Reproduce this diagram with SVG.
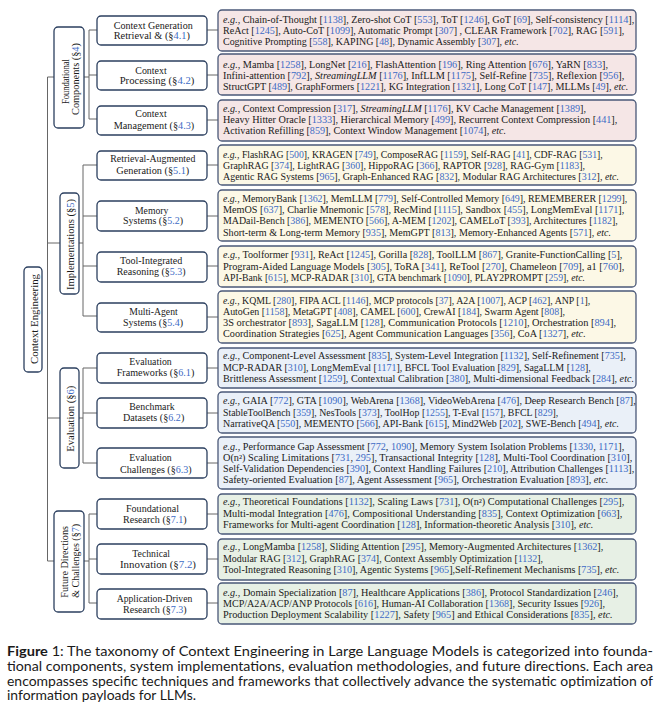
<svg xmlns="http://www.w3.org/2000/svg" width="659" height="721" viewBox="0 0 659 721">
<style>
.bx{fill:#fff;stroke:#2b3f5f;stroke-width:1.3}
.leaf{stroke:#4a5878;stroke-width:1.3}
.f1{fill:#f5e6e6}.f2{fill:#fcf8e6}.f3{fill:#eaf0f8}.f4{fill:#e7f0e5}
.t{font-family:"Liberation Serif",serif;font-size:9.6px;fill:#1a1a1a}
.lb{font-family:"Liberation Serif",serif;font-size:10px;fill:#1a1a1a}
.rt{font-family:"Liberation Serif",serif;font-size:10px;fill:#1a1a1a}
.c{fill:#3d6bc5}
.i{font-style:italic}
.conn{stroke:#666;stroke-width:1;fill:none}
.cap{font-family:Lato,"Liberation Sans",sans-serif;font-size:13px;fill:#1a1a1a}
</style>
<rect width="659" height="721" fill="#fff"/>

<g id="connectors" class="conn">
<path d="M47.5 77V561M47.5 77H54M47.5 243H60M47.5 418H60M47.5 561H54"/>
<path d="M84 77H89M89 30V119M89 30H97M89 75H97M89 119H97"/>
<path d="M79 243H83M83 165V316M83 165H97M83 216H97M83 266H97M83 316H97"/>
<path d="M79 418H83M83 368V463M83 368H97M83 413H97M83 463H97"/>
<path d="M84 561H89M89 514V603M89 514H97M89 559H97M89 603H97"/>
<path d="M207 30H218M207 75H218M207 120H218M207 165H218M207 216H218M207 266H218M207 317H218M207 368H218M207 413H218M207 463H218M207 514H218M207 559H218M207 603H218"/>
</g>

<g id="root">
<rect class="bx" x="24" y="267" width="18" height="105" rx="4"/>
<text class="rt" transform="translate(37.5,364) rotate(-90)" textLength="90" lengthAdjust="spacingAndGlyphs" style="font-size:10.8px">Context Engineering</text>
</g>

<g id="foundational">
<rect class="bx" x="54" y="27" width="30" height="101" rx="4"/>
<text class="rt" transform="translate(68.5,104) rotate(-90)" textLength="45" lengthAdjust="spacingAndGlyphs">Foundational</text>
<text class="rt" transform="translate(78.5,115) rotate(-90)" textLength="72" lengthAdjust="spacingAndGlyphs">Components (§<tspan class="c">4</tspan>)</text>
</g>
<g id="implementations">
<rect class="bx" x="60" y="193" width="19" height="101" rx="4"/>
<text class="rt" transform="translate(73.5,290) rotate(-90)" textLength="91" lengthAdjust="spacingAndGlyphs">Implementations  (§<tspan class="c">5</tspan>)</text>
</g>
<g id="evaluation">
<rect class="bx" x="60" y="368" width="19" height="100" rx="4"/>
<text class="rt" transform="translate(73.5,451.7) rotate(-90)" textLength="66" lengthAdjust="spacingAndGlyphs">Evaluation  (§<tspan class="c">6</tspan>)</text>
</g>
<g id="future">
<rect class="bx" x="54" y="511" width="30" height="101" rx="4"/>
<text class="rt" transform="translate(67.5,597.7) rotate(-90)" textLength="71.7" lengthAdjust="spacingAndGlyphs">Future Directions</text>
<text class="rt" transform="translate(78.5,597.7) rotate(-90)" textLength="73.7" lengthAdjust="spacingAndGlyphs">&amp; Challenges (§<tspan class="c">7</tspan>)</text>
</g>

<g id="n41">
<rect class="bx" x="97" y="16" width="110" height="29" rx="4"/>
<text class="lb" x="113.7" y="28.6" textLength="79" lengthAdjust="spacingAndGlyphs">Context Generation</text>
<text class="lb" x="113.7" y="39.3" textLength="76.3" lengthAdjust="spacingAndGlyphs">Retrieval &amp;  (§<tspan class="c">4.1</tspan>)</text>
</g>
<g id="n42">
<rect class="bx" x="97" y="61" width="110" height="29" rx="4"/>
<text class="lb" x="135.3" y="73.6" textLength="31.4" lengthAdjust="spacingAndGlyphs">Context</text>
<text class="lb" x="119.7" y="84.3" textLength="74.6" lengthAdjust="spacingAndGlyphs">Processing (§<tspan class="c">4.2</tspan>)</text>
</g>
<g id="n43">
<rect class="bx" x="97" y="106" width="110" height="29" rx="4"/>
<text class="lb" x="135.3" y="117.3" textLength="31.4" lengthAdjust="spacingAndGlyphs">Context</text>
<text class="lb" x="113.7" y="129.3" textLength="80.6" lengthAdjust="spacingAndGlyphs">Management (§<tspan class="c">4.3</tspan>)</text>
</g>
<g id="n51">
<rect class="bx" x="97" y="151" width="110" height="29" rx="4"/>
<text class="lb" x="110.3" y="162.3" textLength="85" lengthAdjust="spacingAndGlyphs">Retrieval-Augmented</text>
<text class="lb" x="116.3" y="173.9" textLength="73" lengthAdjust="spacingAndGlyphs">Generation (§<tspan class="c">5.1</tspan>)</text>
</g>
<g id="n52">
<rect class="bx" x="97" y="201" width="110" height="30" rx="4"/>
<text class="lb" x="135" y="213.6" textLength="33.3" lengthAdjust="spacingAndGlyphs">Memory</text>
<text class="lb" x="123" y="223.9" textLength="60" lengthAdjust="spacingAndGlyphs">Systems (§<tspan class="c">5.2</tspan>)</text>
</g>
<g id="n53">
<rect class="bx" x="97" y="252" width="110" height="30" rx="4"/>
<text class="lb" x="120" y="263.9" textLength="62.3" lengthAdjust="spacingAndGlyphs">Tool-Integrated</text>
<text class="lb" x="116.7" y="275.3" textLength="69" lengthAdjust="spacingAndGlyphs">Reasoning (§<tspan class="c">5.3</tspan>)</text>
</g>
<g id="n54">
<rect class="bx" x="97" y="303" width="110" height="29" rx="4"/>
<text class="lb" x="129.3" y="314.6" textLength="48.4" lengthAdjust="spacingAndGlyphs">Multi-Agent</text>
<text class="lb" x="123" y="325.9" textLength="60" lengthAdjust="spacingAndGlyphs">Systems (§<tspan class="c">5.4</tspan>)</text>
</g>
<g id="n61">
<rect class="bx" x="97" y="353" width="110" height="30" rx="4"/>
<text class="lb" x="129.3" y="365.3" textLength="42.4" lengthAdjust="spacingAndGlyphs">Evaluation</text>
<text class="lb" x="116.7" y="376.3" textLength="77.6" lengthAdjust="spacingAndGlyphs">Frameworks (§<tspan class="c">6.1</tspan>)</text>
</g>
<g id="n62">
<rect class="bx" x="97" y="398" width="110" height="30" rx="4"/>
<text class="lb" x="129.3" y="410.3" textLength="45.4" lengthAdjust="spacingAndGlyphs">Benchmark</text>
<text class="lb" x="123" y="421.3" textLength="61.3" lengthAdjust="spacingAndGlyphs">Datasets (§<tspan class="c">6.2</tspan>)</text>
</g>
<g id="n63">
<rect class="bx" x="97" y="448" width="110" height="30" rx="4"/>
<text class="lb" x="129.3" y="460.6" textLength="42.4" lengthAdjust="spacingAndGlyphs">Evaluation</text>
<text class="lb" x="120" y="472.6" textLength="71.7" lengthAdjust="spacingAndGlyphs">Challenges (§<tspan class="c">6.3</tspan>)</text>
</g>
<g id="n71">
<rect class="bx" x="97" y="499" width="110" height="30" rx="4"/>
<text class="lb" x="126" y="511.6" textLength="53" lengthAdjust="spacingAndGlyphs">Foundational</text>
<text class="lb" x="123" y="522.9" textLength="63.7" lengthAdjust="spacingAndGlyphs">Research (§<tspan class="c">7.1</tspan>)</text>
</g>
<g id="n72">
<rect class="bx" x="97" y="544" width="110" height="30" rx="4"/>
<text class="lb" x="132.3" y="556.6" textLength="37.7" lengthAdjust="spacingAndGlyphs">Technical</text>
<text class="lb" x="120" y="568.3" textLength="76" lengthAdjust="spacingAndGlyphs">Innovation (§<tspan class="c">7.2</tspan>)</text>
</g>
<g id="n73">
<rect class="bx" x="97" y="589" width="110" height="30" rx="4"/>
<text class="lb" x="116.7" y="601.9" textLength="75.6" lengthAdjust="spacingAndGlyphs">Application-Driven</text>
<text class="lb" x="123" y="612.6" textLength="63.7" lengthAdjust="spacingAndGlyphs">Research (§<tspan class="c">7.3</tspan>)</text>
</g>

<g id="leaf41">
<rect class="leaf f1" x="218" y="10" width="418" height="41" rx="4"/>
<text class="t" x="223" y="22.6" textLength="411.3" lengthAdjust="spacingAndGlyphs"><tspan class="i">e.g.</tspan>, Chain-of-Thought [<tspan class="c">1138</tspan>], Zero-shot CoT [<tspan class="c">553</tspan>], ToT [<tspan class="c">1246</tspan>], GoT [<tspan class="c">69</tspan>], Self-consistency [<tspan class="c">1114</tspan>],</text>
<text class="t" x="223" y="33.6" textLength="401.3" lengthAdjust="spacingAndGlyphs">ReAct [<tspan class="c">1245</tspan>], Auto-CoT [<tspan class="c">1099</tspan>], Automatic Prompt [<tspan class="c">307</tspan>] , CLEAR Framework [<tspan class="c">702</tspan>], RAG [<tspan class="c">591</tspan>],</text>
<text class="t" x="223" y="44.6" textLength="295.7" lengthAdjust="spacingAndGlyphs">Cognitive Prompting [<tspan class="c">558</tspan>], KAPING [<tspan class="c">48</tspan>], Dynamic Assembly [<tspan class="c">307</tspan>], <tspan class="i">etc.</tspan></text>
</g>
<g id="leaf42">
<rect class="leaf f1" x="218" y="54" width="418" height="41" rx="4"/>
<text class="t" x="223" y="67.6" textLength="385" lengthAdjust="spacingAndGlyphs"><tspan class="i">e.g.</tspan>, Mamba [<tspan class="c">1258</tspan>], LongNet [<tspan class="c">216</tspan>], FlashAttention [<tspan class="c">196</tspan>], Ring Attention [<tspan class="c">676</tspan>], YaRN [<tspan class="c">833</tspan>],</text>
<text class="t" x="223" y="78.6" textLength="401.3" lengthAdjust="spacingAndGlyphs">Infini-attention [<tspan class="c">792</tspan>], <tspan class="i">StreamingLLM</tspan> [<tspan class="c">1176</tspan>], InfLLM [<tspan class="c">1175</tspan>], Self-Refine [<tspan class="c">735</tspan>], Reflexion [<tspan class="c">956</tspan>],</text>
<text class="t" x="223" y="89.6" textLength="405.3" lengthAdjust="spacingAndGlyphs">StructGPT [<tspan class="c">489</tspan>], GraphFormers [<tspan class="c">1221</tspan>], KG Integration [<tspan class="c">1321</tspan>], Long CoT [<tspan class="c">147</tspan>], MLLMs [<tspan class="c">49</tspan>], <tspan class="i">etc.</tspan></text>
</g>
<g id="leaf43">
<rect class="leaf f1" x="218" y="100" width="418" height="41" rx="4"/>
<text class="t" x="223" y="112.3" textLength="363" lengthAdjust="spacingAndGlyphs"><tspan class="i">e.g.</tspan>, Context Compression [<tspan class="c">317</tspan>], <tspan class="i">StreamingLLM</tspan> [<tspan class="c">1176</tspan>], KV Cache Management [<tspan class="c">1389</tspan>],</text>
<text class="t" x="223" y="123.3" textLength="394.3" lengthAdjust="spacingAndGlyphs">Heavy Hitter Oracle [<tspan class="c">1333</tspan>], Hierarchical Memory [<tspan class="c">499</tspan>], Recurrent Context Compression [<tspan class="c">441</tspan>],</text>
<text class="t" x="223" y="134.3" textLength="283" lengthAdjust="spacingAndGlyphs">Activation Refilling [<tspan class="c">859</tspan>], Context Window Management [<tspan class="c">1074</tspan>], <tspan class="i">etc.</tspan></text>
</g>
<g id="leaf51">
<rect class="leaf f2" x="218" y="145" width="418" height="40" rx="4"/>
<text class="t" x="223" y="157.6" textLength="379.7" lengthAdjust="spacingAndGlyphs"><tspan class="i">e.g.</tspan>, FlashRAG [<tspan class="c">500</tspan>], KRAGEN [<tspan class="c">749</tspan>], ComposeRAG [<tspan class="c">1159</tspan>], Self-RAG [<tspan class="c">41</tspan>], CDF-RAG [<tspan class="c">531</tspan>],</text>
<text class="t" x="223" y="168.8" textLength="362" lengthAdjust="spacingAndGlyphs">GraphRAG [<tspan class="c">374</tspan>], LightRAG [<tspan class="c">360</tspan>], HippoRAG [<tspan class="c">366</tspan>], RAPTOR [<tspan class="c">928</tspan>], RAG-Gym [<tspan class="c">1183</tspan>],</text>
<text class="t" x="223" y="180" textLength="396" lengthAdjust="spacingAndGlyphs">Agentic RAG Systems [<tspan class="c">965</tspan>], Graph-Enhanced RAG [<tspan class="c">832</tspan>], Modular RAG Architectures [<tspan class="c">312</tspan>], <tspan class="i">etc.</tspan></text>
</g>
<g id="leaf52">
<rect class="leaf f2" x="218" y="190" width="418" height="51" rx="4"/>
<text class="t" x="223" y="201.6" textLength="404.3" lengthAdjust="spacingAndGlyphs"><tspan class="i">e.g.</tspan>, MemoryBank [<tspan class="c">1362</tspan>], MemLLM [<tspan class="c">779</tspan>], Self-Controlled Memory [<tspan class="c">649</tspan>], REMEMBERER [<tspan class="c">1299</tspan>],</text>
<text class="t" x="223" y="213" textLength="401.3" lengthAdjust="spacingAndGlyphs">MemOS [<tspan class="c">637</tspan>], Charlie Mnemonic [<tspan class="c">578</tspan>], RecMind [<tspan class="c">1115</tspan>], Sandbox [<tspan class="c">455</tspan>], LongMemEval [<tspan class="c">1171</tspan>],</text>
<text class="t" x="223" y="224.3" textLength="394.7" lengthAdjust="spacingAndGlyphs">MADail-Bench [<tspan class="c">386</tspan>], MEMENTO [<tspan class="c">566</tspan>], A-MEM [<tspan class="c">1202</tspan>], CAMELoT [<tspan class="c">393</tspan>], Architectures [<tspan class="c">1182</tspan>],</text>
<text class="t" x="223" y="235.6" textLength="388" lengthAdjust="spacingAndGlyphs">Short-term &amp; Long-term Memory [<tspan class="c">935</tspan>], MemGPT [<tspan class="c">813</tspan>], Memory-Enhanced Agents [<tspan class="c">571</tspan>], <tspan class="i">etc.</tspan></text>
</g>
<g id="leaf53">
<rect class="leaf f2" x="218" y="246" width="418" height="41" rx="4"/>
<text class="t" x="223" y="258.3" textLength="399.3" lengthAdjust="spacingAndGlyphs"><tspan class="i">e.g.</tspan>, Toolformer [<tspan class="c">931</tspan>], ReAct [<tspan class="c">1245</tspan>], Gorilla [<tspan class="c">828</tspan>], ToolLLM [<tspan class="c">867</tspan>], Granite-FunctionCalling [<tspan class="c">5</tspan>],</text>
<text class="t" x="223" y="269.6" textLength="401.3" lengthAdjust="spacingAndGlyphs">Program-Aided Language Models [<tspan class="c">305</tspan>], ToRA [<tspan class="c">341</tspan>], ReTool [<tspan class="c">270</tspan>], Chameleon [<tspan class="c">709</tspan>], a1 [<tspan class="c">760</tspan>],</text>
<text class="t" x="223" y="281" textLength="362" lengthAdjust="spacingAndGlyphs">API-Bank [<tspan class="c">615</tspan>], MCP-RADAR [<tspan class="c">310</tspan>], GTA benchmark [<tspan class="c">1090</tspan>], PLAY2PROMPT [<tspan class="c">259</tspan>], <tspan class="i">etc.</tspan></text>
</g>
<g id="leaf54">
<rect class="leaf f2" x="218" y="291" width="418" height="52" rx="4"/>
<text class="t" x="223" y="304" textLength="367.3" lengthAdjust="spacingAndGlyphs"><tspan class="i">e.g.</tspan>, KQML [<tspan class="c">280</tspan>], FIPA ACL [<tspan class="c">1146</tspan>], MCP protocols [<tspan class="c">37</tspan>], A2A [<tspan class="c">1007</tspan>], ACP [<tspan class="c">462</tspan>], ANP [<tspan class="c">1</tspan>],</text>
<text class="t" x="223" y="315" textLength="342" lengthAdjust="spacingAndGlyphs">AutoGen [<tspan class="c">1158</tspan>], MetaGPT [<tspan class="c">408</tspan>], CAMEL [<tspan class="c">600</tspan>], CrewAI [<tspan class="c">184</tspan>], Swarm Agent [<tspan class="c">808</tspan>],</text>
<text class="t" x="223" y="326" textLength="393" lengthAdjust="spacingAndGlyphs">3S orchestrator [<tspan class="c">893</tspan>], SagaLLM [<tspan class="c">128</tspan>], Communication Protocols [<tspan class="c">1210</tspan>], Orchestration  [<tspan class="c">894</tspan>],</text>
<text class="t" x="223" y="337" textLength="362.7" lengthAdjust="spacingAndGlyphs">Coordination Strategies [<tspan class="c">625</tspan>], Agent Communication Languages [<tspan class="c">356</tspan>], CoA [<tspan class="c">1327</tspan>], <tspan class="i">etc.</tspan></text>
</g>
<g id="leaf61">
<rect class="leaf f3" x="218" y="348" width="418" height="40" rx="4"/>
<text class="t" x="223" y="359.3" textLength="402.7" lengthAdjust="spacingAndGlyphs"><tspan class="i">e.g.</tspan>, Component-Level Assessment [<tspan class="c">835</tspan>], System-Level Integration [<tspan class="c">1132</tspan>], Self-Refinement [<tspan class="c">735</tspan>],</text>
<text class="t" x="223" y="371" textLength="367.7" lengthAdjust="spacingAndGlyphs">MCP-RADAR [<tspan class="c">310</tspan>], LongMemEval [<tspan class="c">1171</tspan>], BFCL Tool Evaluation [<tspan class="c">829</tspan>], SagaLLM  [<tspan class="c">128</tspan>],</text>
<text class="t" x="223" y="382" textLength="411" lengthAdjust="spacingAndGlyphs">Brittleness Assessment [<tspan class="c">1259</tspan>], Contextual Calibration [<tspan class="c">380</tspan>], Multi-dimensional Feedback [<tspan class="c">284</tspan>], <tspan class="i">etc.</tspan></text>
</g>
<g id="leaf62">
<rect class="leaf f3" x="218" y="392" width="418" height="41" rx="4"/>
<text class="t" x="223" y="404.3" textLength="412.7" lengthAdjust="spacingAndGlyphs"><tspan class="i">e.g.</tspan>, GAIA [<tspan class="c">772</tspan>], GTA [<tspan class="c">1090</tspan>], WebArena [<tspan class="c">1368</tspan>], VideoWebArena [<tspan class="c">476</tspan>], Deep Research Bench [<tspan class="c">87</tspan>],</text>
<text class="t" x="223" y="416" textLength="335.3" lengthAdjust="spacingAndGlyphs">StableToolBench [<tspan class="c">359</tspan>], NesTools [<tspan class="c">373</tspan>], ToolHop [<tspan class="c">1255</tspan>], T-Eval [<tspan class="c">157</tspan>], BFCL [<tspan class="c">829</tspan>],</text>
<text class="t" x="223" y="427.3" textLength="396" lengthAdjust="spacingAndGlyphs">NarrativeQA [<tspan class="c">550</tspan>], MEMENTO [<tspan class="c">566</tspan>], API-Bank [<tspan class="c">615</tspan>], Mind2Web [<tspan class="c">202</tspan>], SWE-Bench [<tspan class="c">494</tspan>], <tspan class="i">etc.</tspan></text>
</g>
<g id="leaf63">
<rect class="leaf f3" x="218" y="437" width="418" height="52" rx="4"/>
<text class="t" x="223" y="449.6" textLength="401.3" lengthAdjust="spacingAndGlyphs"><tspan class="i">e.g.</tspan>, Performance Gap Assessment [<tspan class="c">772</tspan>, <tspan class="c">1090</tspan>], Memory System Isolation Problems [<tspan class="c">1330</tspan>, <tspan class="c">1171</tspan>],</text>
<text class="t" x="223" y="460.5" textLength="409.3" lengthAdjust="spacingAndGlyphs">O(n²) Scaling Limitations [<tspan class="c">731</tspan>, <tspan class="c">295</tspan>], Transactional Integrity [<tspan class="c">128</tspan>], Multi-Tool Coordination [<tspan class="c">310</tspan>],</text>
<text class="t" x="223" y="472" textLength="411.3" lengthAdjust="spacingAndGlyphs">Self-Validation Dependencies [<tspan class="c">390</tspan>], Context Handling Failures [<tspan class="c">210</tspan>], Attribution Challenges [<tspan class="c">1113</tspan>],</text>
<text class="t" x="223" y="483.3" textLength="385.3" lengthAdjust="spacingAndGlyphs">Safety-oriented Evaluation [<tspan class="c">87</tspan>], Agent Assessment [<tspan class="c">965</tspan>], Orchestration Evaluation [<tspan class="c">893</tspan>], <tspan class="i">etc.</tspan></text>
</g>
<g id="leaf71">
<rect class="leaf f4" x="218" y="494" width="418" height="40" rx="4"/>
<text class="t" x="223" y="505.3" textLength="401.3" lengthAdjust="spacingAndGlyphs"><tspan class="i">e.g.</tspan>, Theoretical Foundations [<tspan class="c">1132</tspan>], Scaling Laws [<tspan class="c">731</tspan>], O(n²) Computational Challenges [<tspan class="c">295</tspan>],</text>
<text class="t" x="223" y="517" textLength="399.3" lengthAdjust="spacingAndGlyphs">Multi-modal Integration [<tspan class="c">476</tspan>], Compositional Understanding [<tspan class="c">835</tspan>], Context Optimization [<tspan class="c">663</tspan>],</text>
<text class="t" x="223" y="528" textLength="370.3" lengthAdjust="spacingAndGlyphs">Frameworks for Multi-agent Coordination [<tspan class="c">128</tspan>], Information-theoretic Analysis [<tspan class="c">310</tspan>], <tspan class="i">etc.</tspan></text>
</g>
<g id="leaf72">
<rect class="leaf f4" x="218" y="539" width="418" height="41" rx="4"/>
<text class="t" x="223" y="550.3" textLength="380.3" lengthAdjust="spacingAndGlyphs"><tspan class="i">e.g.</tspan>, LongMamba [<tspan class="c">1258</tspan>], Sliding Attention [<tspan class="c">295</tspan>], Memory-Augmented Architectures [<tspan class="c">1362</tspan>],</text>
<text class="t" x="223" y="562" textLength="320" lengthAdjust="spacingAndGlyphs">Modular RAG [<tspan class="c">312</tspan>], GraphRAG [<tspan class="c">374</tspan>], Context Assembly Optimization [<tspan class="c">1132</tspan>],</text>
<text class="t" x="223" y="573.3" textLength="396.3" lengthAdjust="spacingAndGlyphs">Tool-Integrated Reasoning [<tspan class="c">310</tspan>], Agentic Systems [<tspan class="c">965</tspan>],Self-Refinement Mechanisms [<tspan class="c">735</tspan>], <tspan class="i">etc.</tspan></text>
</g>
<g id="leaf73">
<rect class="leaf f4" x="218" y="583" width="418" height="41" rx="4"/>
<text class="t" x="223" y="595.6" textLength="395.3" lengthAdjust="spacingAndGlyphs"><tspan class="i">e.g.</tspan>, Domain Specialization [<tspan class="c">87</tspan>], Healthcare Applications [<tspan class="c">386</tspan>], Protocol Standardization [<tspan class="c">246</tspan>],</text>
<text class="t" x="223" y="607" textLength="382" lengthAdjust="spacingAndGlyphs">MCP/A2A/ACP/ANP Protocols [<tspan class="c">616</tspan>], Human-AI Collaboration [<tspan class="c">1368</tspan>], Security Issues [<tspan class="c">926</tspan>],</text>
<text class="t" x="223" y="618" textLength="389.7" lengthAdjust="spacingAndGlyphs">Production Deployment Scalability [<tspan class="c">1227</tspan>], Safety  [<tspan class="c">965</tspan>] and Ethical Considerations [<tspan class="c">835</tspan>], <tspan class="i">etc.</tspan></text>
</g>

<g id="caption">
<text class="cap" x="7" y="656" textLength="646" lengthAdjust="spacingAndGlyphs"><tspan font-weight="bold">Figure</tspan> 1: The taxonomy of Context Engineering in Large Language Models is categorized into founda-</text>
<text class="cap" x="7" y="670.5" textLength="646" lengthAdjust="spacingAndGlyphs">tional components, system implementations, evaluation methodologies, and future directions. Each area</text>
<text class="cap" x="7" y="685.5" textLength="646" lengthAdjust="spacingAndGlyphs">encompasses specific techniques and frameworks that collectively advance the systematic optimization of</text>
<text class="cap" x="7" y="700" textLength="189" lengthAdjust="spacingAndGlyphs">information payloads for LLMs.</text>
</g>
</svg>
